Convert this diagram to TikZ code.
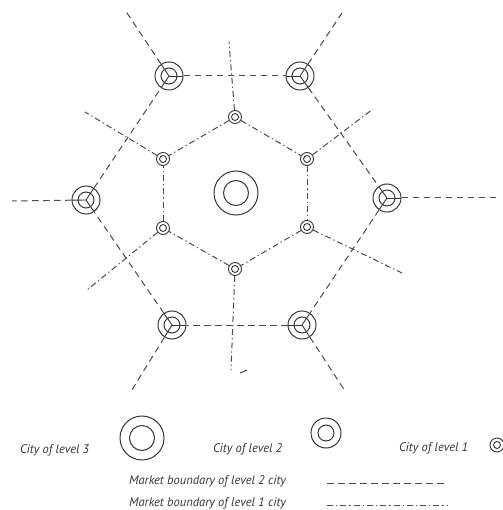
\documentclass[tikz,border=0pt]{standalone}
\usepackage{fontspec}
\setmainfont{PT Sans}
\usetikzlibrary{calc}
\definecolor{ink}{RGB}{55,55,55}
\definecolor{lineink}{RGB}{75,75,75}
\begin{document}
\begin{tikzpicture}[x=1pt,y=-1pt,
  c3/.style={circle,draw=ink,line width=1pt,minimum size=44pt,inner sep=0pt,
    path picture={\draw[ink,line width=1pt] (path picture bounding box.center) circle[radius=12.5pt];}},
  c2/.style={circle,draw=ink,line width=1pt,minimum size=28pt,inner sep=0pt,
    path picture={\draw[ink,line width=1pt] (path picture bounding box.center) circle[radius=8pt];}},
  c1/.style={circle,draw=ink,line width=0.9pt,minimum size=13pt,inner sep=0pt,
    path picture={\draw[ink,line width=0.9pt] (path picture bounding box.center) circle[radius=3.5pt];}},
  bnd2/.style={draw=lineink,line width=1pt,dash pattern=on 6.5pt off 4.5pt},
  bnd1/.style={draw=lineink,line width=1pt,dash pattern=on 6pt off 3pt on 1.3pt off 3pt},
  tick/.style={draw=ink,line width=0.9pt},
  lbl/.style={font=\itshape\fontsize{12.5}{14}\selectfont,text=ink,inner sep=0pt}
]
\useasboundingbox (0,0) rectangle (502,510);

% level 3 city
\node[c3] (C) at (236,193) {};

% level 2 cities
\node[c2] (TL) at (169,76) {};
\node[c2] (TR) at (300,76) {};
\node[c2] (L)  at (86,200) {};
\node[c2] (R)  at (387,198) {};
\node[c2] (BL) at (172,325) {};
\node[c2] (BR) at (302,325) {};

% level 1 cities
\node[c1] (T)  at (235,117) {};
\node[c1] (UL) at (163,159) {};
\node[c1] (UR) at (307,159) {};
\node[c1] (LL) at (163,228) {};
\node[c1] (LR) at (307,227) {};
\node[c1] (B)  at (235,269) {};

% free ends of level 2 boundaries
\coordinate (eTL) at (125,10);
\coordinate (eTR) at (342,13);
\coordinate (eL)  at (12,201);
\coordinate (eR)  at (500,198);
\coordinate (eBL) at (130,393);
\coordinate (eBR) at (345,391);

% free ends of level 1 boundaries
\coordinate (fT)  at (229,42);
\coordinate (fUL) at (85,112);
\coordinate (fUR) at (373,109);
\coordinate (fLL) at (87,290);
\coordinate (fLR) at (402,273);
\coordinate (fB)  at (231,370);

% level 2 market boundaries
\draw[bnd2] (TL) -- (TR);
\draw[bnd2] (TR) -- (R);
\draw[bnd2] (R) -- (BR);
\draw[bnd2] (BR) -- (BL);
\draw[bnd2] (BL) -- (L);
\draw[bnd2] (L) -- (TL);
\draw[bnd2] (TL) -- (eTL);
\draw[bnd2] (TR) -- (eTR);
\draw[bnd2] (L) -- (eL);
\draw[bnd2] (R) -- (eR);
\draw[bnd2] (BL) -- (eBL);
\draw[bnd2] (BR) -- (eBR);

% level 1 market boundaries
\draw[bnd1] (T) -- (UL);
\draw[bnd1] (T) -- (UR);
\draw[bnd1] (UR) -- (LR);
\draw[bnd1] (LR) -- (B);
\draw[bnd1] (B) -- (LL);
\draw[bnd1] (LL) -- (UL);
\draw[bnd1] (T) -- (fT);
\draw[bnd1] (UL) -- (fUL);
\draw[bnd1] (UR) -- (fUR);
\draw[bnd1] (LL) -- (fLL);
\draw[bnd1] (LR) -- (fLR);
\draw[bnd1] (B) -- (fB);

% short strokes inside level 2 cities
\foreach \a/\b in {TL/TR,TL/L,TL/eTL,TR/TL,TR/R,TR/eTR,L/TL,L/BL,L/eL,
                   R/TR,R/BR,R/eR,BL/L,BL/BR,BL/eBL,BR/BL,BR/R,BR/eBR}
  \draw[tick] (\a.center) -- ($(\a.center)!14pt!(\b)$);

% stray mark
\coordinate (s1) at (240,373);
\coordinate (s2) at (247,370);
\draw[tick] (s1) -- (s2);

% legend
\node[lbl,anchor=west] (l3) at (20,450) {City of level 3};
\node[c3] (k3) at (142,438) {};
\node[lbl,anchor=west] (l2) at (213,449) {City of level 2};
\node[c2,minimum size=30pt] (k2) at (326,433) {};
\node[lbl,anchor=west] (l1) at (399,448) {City of level 1};
\node[c1,minimum size=14pt] (k1) at (497,445) {};

\node[lbl,anchor=west] (m2) at (129,481) {Market boundary of level 2 city};
\node[lbl,anchor=west] (m1) at (129,503) {Market boundary of level 1 city};
\coordinate (d2a) at (327,483);
\coordinate (d2b) at (447,483);
\coordinate (d1a) at (327,505);
\coordinate (d1b) at (447,505);
\draw[bnd2] (d2a) -- (d2b);
\draw[bnd1] (d1a) -- (d1b);
\end{tikzpicture}
\end{document}
